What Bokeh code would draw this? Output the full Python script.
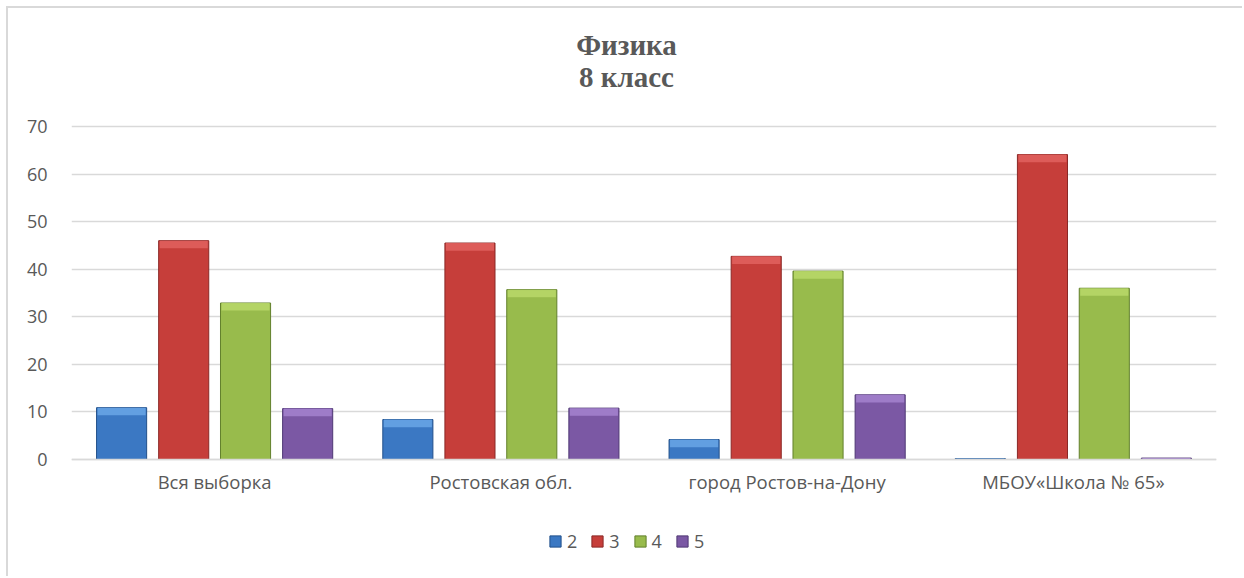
from bokeh.plotting import figure
from bokeh.models import FactorRange, Range1d, Legend, LegendItem, ColumnDataSource, FixedTicker, Label
from bokeh.transform import dodge
from bokeh.embed import file_html
from bokeh.resources import INLINE

categories = ["Вся выборка", "Ростовская обл.", "город Ростов-на-Дону", "МБОУ«Школа № 65»"]
series_names = ["2", "3", "4", "5"]
grade2 = [10.9, 8.4, 4.2, 0.2]
grade3 = [46.0, 45.5, 42.7, 64.1]
grade4 = [32.9, 35.7, 39.6, 36.0]
grade5 = [10.7, 10.8, 13.6, 0.3]
y_ticks = [0, 10, 20, 30, 40, 50, 60, 70]
title_lines = ["Физика", "8 класс"]

series_values = [grade2, grade3, grade4, grade5]
main_colors = ["#3b78c3", "#c63e3a", "#98bb4c", "#7b58a4"]
cap_colors = ["#6aa6e6", "#e0625f", "#b8d86a", "#a583cf"]
edge_colors = ["#22508a", "#8a2826", "#62802c", "#4f3874"]
offsets = [-0.325, -0.108, 0.108, 0.325]
BAR_W = 0.175
CAP = 1.6

# the frame covers the whole chart box; gridlines/ticks only for 0..70,
# the title, category labels and legend sit inside it as in the reference
p = figure(width=1236, height=570, x_range=FactorRange(*categories, range_padding=0),
           y_range=Range1d(-23.33, 94.8), output_backend="svg", toolbar_location=None,
           title=None,
           min_border_left=63, min_border_right=28, min_border_top=0, min_border_bottom=8)
p.outline_line_color = None
p.background_fill_color = "white"
p.border_fill_color = "white"

for txt, sy in zip(title_lines, [526, 494]):
    p.add_layout(Label(x=555, y=sy, x_units="screen", y_units="screen", text=txt,
                       text_align="center", text_baseline="middle",
                       text_font="Liberation Serif", text_font_style="bold",
                       text_font_size="29px", text_color="#595959"))

legend_items = []
for i, name in enumerate(series_names):
    vals = series_values[i]
    src = ColumnDataSource(dict(cat=categories, top=vals,
                                cap_bottom=[max(v - CAP, 0) for v in vals]))
    r = p.vbar(x=dodge("cat", offsets[i], range=p.x_range), top="top", bottom=0, width=BAR_W,
               source=src, fill_color=main_colors[i], line_color=edge_colors[i], line_width=1)
    p.vbar(x=dodge("cat", offsets[i], range=p.x_range), top="top", bottom="cap_bottom",
           width=BAR_W * 0.96, source=src, fill_color=cap_colors[i], line_color=None, fill_alpha=0.85)
    legend_items.append(LegendItem(label=name, renderers=[r]))

legend = Legend(items=legend_items, orientation="horizontal", location=(477, 17),
                border_line_color=None, background_fill_alpha=0, padding=0, margin=0,
                glyph_width=14, glyph_height=14, label_text_font="Open Sans",
                label_text_font_size="18px", label_text_color="#595959",
                spacing=13, label_standoff=5, label_height=14, label_width=10)
p.add_layout(legend, "center")

p.yaxis.ticker = FixedTicker(ticks=y_ticks)
p.yaxis.axis_line_color = None
p.yaxis.major_tick_line_color = None
p.yaxis.minor_tick_line_color = None
p.yaxis.major_label_standoff = 18
p.yaxis.major_label_text_font = "Open Sans"
p.yaxis.major_label_text_font_size = "18px"
p.yaxis.major_label_text_color = "#595959"

p.xaxis.fixed_location = 0
p.xaxis.axis_line_color = "#d9d9d9"
p.xaxis.axis_line_width = 1.5
p.xaxis.major_tick_line_color = None
p.xaxis.minor_tick_line_color = None
p.xaxis.major_label_standoff = 3
p.xaxis.major_label_text_font = "Open Sans"
p.xaxis.major_label_text_font_size = "18.5px"
p.xaxis.major_label_text_color = "#595959"

p.xgrid.grid_line_color = None
p.ygrid.ticker = FixedTicker(ticks=y_ticks)
p.ygrid.grid_line_color = "#d9d9d9"
p.ygrid.grid_line_width = 1.5

p.styles = {"margin-left": "6px", "margin-top": "6px",
            "border-left": "2px solid #d9d9d9", "border-top": "2px solid #d9d9d9"}

open("out.html", "w").write(file_html(p, INLINE))
